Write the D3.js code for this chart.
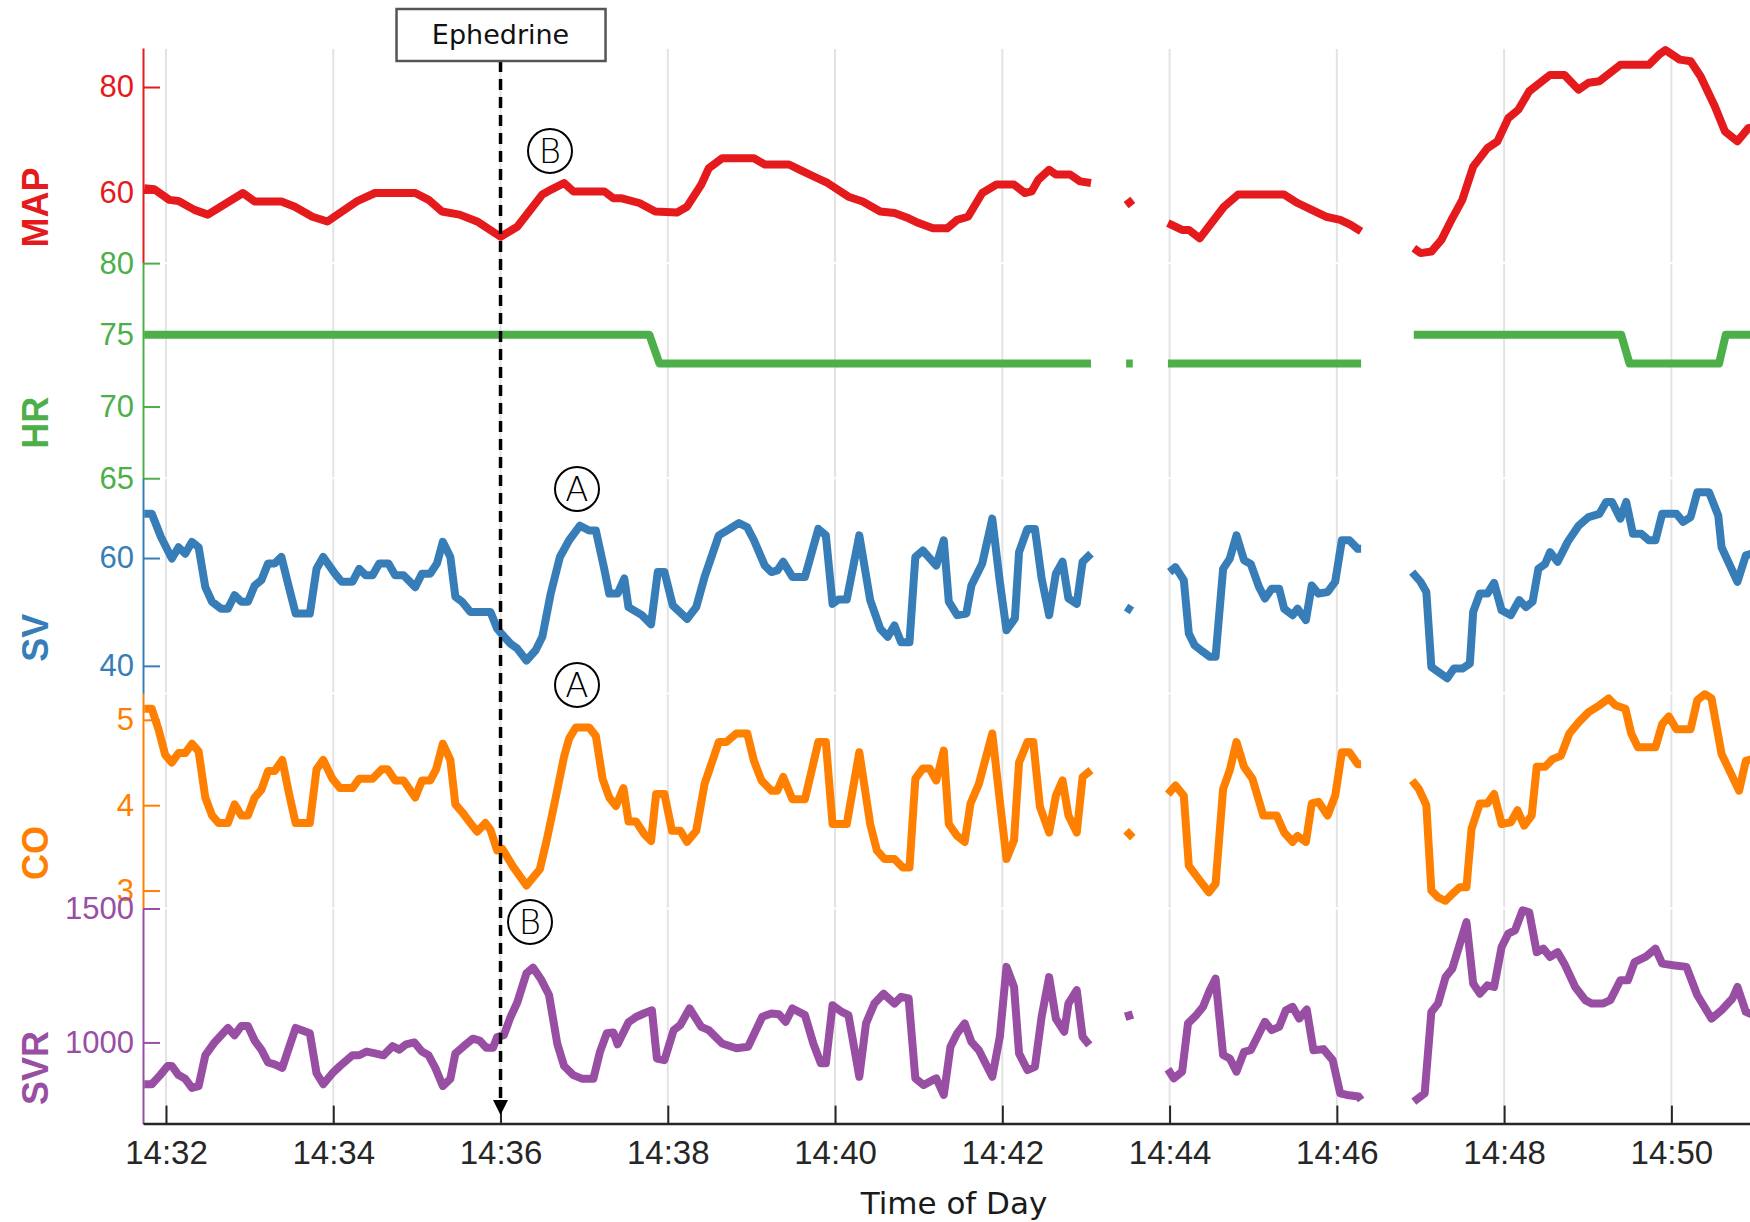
<!DOCTYPE html>
<html>
<head>
<meta charset="utf-8">
<script src="https://cdn.jsdelivr.net/npm/d3@7"></script>
<style>
  html, body { margin: 0; padding: 0; background: #fff; }
  svg { display: block; }
</style>
</head>
<body>
<script>
// every point is [minutes after 14:32, value]; each inner array is one unbroken stretch of signal
const mapSegs = [
  [[-0.26, 60.8], [-0.14, 60.6], [0.04, 58.6], [0.15, 58.4], [0.34, 56.7], [0.5, 55.8], [0.92, 59.9], [1.06, 58.3], [1.38, 58.3], [1.54, 57.3], [1.75, 55.4], [1.93, 54.5], [2.28, 58.3], [2.5, 59.9], [2.98, 59.9], [3.14, 58.6], [3.3, 56.4], [3.51, 55.8], [3.72, 54.5], [4.0, 51.6], [4.2, 53.5], [4.5, 59.6], [4.6, 60.5], [4.76, 61.8], [4.87, 60.2], [5.24, 60.2], [5.35, 58.9], [5.45, 58.9], [5.66, 58.0], [5.85, 56.4], [6.11, 56.2], [6.23, 57.3], [6.4, 61.5], [6.49, 64.6], [6.65, 66.5], [7.03, 66.5], [7.16, 65.3], [7.45, 65.3], [7.58, 64.3], [7.79, 62.7], [7.91, 61.8], [8.16, 59.2], [8.33, 58.3], [8.54, 56.4], [8.71, 56.1], [8.88, 55.1], [9.0, 54.2], [9.17, 53.2], [9.34, 53.2], [9.46, 54.8], [9.59, 55.4], [9.76, 59.9], [9.93, 61.5], [10.14, 61.5], [10.27, 59.9], [10.35, 60.2], [10.43, 62.4], [10.56, 64.3], [10.64, 63.4], [10.81, 63.4], [10.93, 62.1], [11.06, 61.8]],
  [[11.48, 57.6], [11.56, 58.6]],
  [[11.98, 54.2], [12.15, 52.9], [12.23, 52.9], [12.36, 51.3], [12.65, 57.3], [12.82, 59.6], [13.37, 59.6], [13.53, 58.0], [13.7, 56.7], [13.87, 55.4], [14.04, 54.8], [14.16, 53.9], [14.29, 52.6]],
  [[14.92, 49.4], [15.0, 48.5], [15.13, 48.8], [15.25, 51.0], [15.38, 55.1], [15.5, 58.6], [15.63, 64.9], [15.8, 68.4], [15.92, 69.7], [16.05, 74.1], [16.17, 75.7], [16.3, 79.2], [16.55, 82.3], [16.72, 82.3], [16.89, 79.5], [17.01, 80.8], [17.14, 81.1], [17.39, 84.2], [17.73, 84.2], [17.85, 86.1], [17.93, 87.0], [18.1, 85.2], [18.23, 84.9], [18.35, 82.0], [18.52, 76.3], [18.64, 71.6], [18.79, 69.7], [18.92, 72.2], [19.0, 72.5]]
]

const hrSegs = [
  [[-0.26, 75], [5.78, 75], [5.9, 73], [11.06, 73]],
  [[11.48, 73], [11.56, 73]],
  [[11.98, 73], [14.29, 73]],
  [[14.92, 75], [17.4, 75], [17.5, 73], [18.57, 73], [18.65, 75], [19.0, 75]]
]

const svSegs = [
  [[-0.26, 68.2], [-0.17, 68.2], [-0.06, 63.9], [0.07, 59.9], [0.15, 62.0], [0.23, 60.8], [0.31, 63.0], [0.39, 62.0], [0.47, 54.6], [0.55, 51.9], [0.66, 50.6], [0.74, 50.6], [0.82, 53.1], [0.9, 51.9], [0.98, 51.9], [1.06, 54.9], [1.14, 55.9], [1.22, 59.0], [1.3, 59.0], [1.38, 60.2], [1.46, 55.2], [1.55, 49.7], [1.72, 49.7], [1.8, 58.0], [1.88, 60.2], [2.02, 57.1], [2.1, 55.6], [2.23, 55.6], [2.31, 58.0], [2.39, 56.8], [2.47, 56.8], [2.55, 59.0], [2.66, 59.0], [2.74, 56.8], [2.84, 56.8], [2.98, 54.6], [3.06, 57.1], [3.16, 57.1], [3.24, 59.0], [3.31, 63.0], [3.4, 60.2], [3.46, 52.8], [3.54, 51.9], [3.64, 50.0], [3.88, 50.0], [3.96, 46.9], [4.01, 46.0], [4.12, 44.1], [4.2, 43.2], [4.31, 41.0], [4.42, 42.9], [4.5, 45.4], [4.6, 53.4], [4.71, 60.2], [4.82, 63.3], [4.95, 66.0], [5.06, 65.1], [5.14, 65.1], [5.24, 58.0], [5.3, 53.4], [5.4, 53.4], [5.48, 56.2], [5.53, 50.9], [5.69, 49.4], [5.8, 47.7], [5.88, 57.4], [5.96, 57.4], [6.06, 51.2], [6.23, 48.7], [6.34, 50.9], [6.44, 56.5], [6.61, 64.2], [6.74, 65.4], [6.85, 66.5], [6.95, 65.7], [7.03, 63.3], [7.16, 58.6], [7.24, 57.4], [7.31, 57.7], [7.38, 59.3], [7.49, 56.5], [7.64, 56.5], [7.8, 65.4], [7.89, 64.2], [7.97, 51.5], [8.04, 52.3], [8.14, 52.3], [8.29, 64.2], [8.42, 52.2], [8.54, 46.9], [8.63, 45.4], [8.71, 47.5], [8.79, 44.4], [8.89, 44.4], [8.96, 60.2], [9.05, 61.4], [9.21, 58.6], [9.3, 63.3], [9.36, 51.9], [9.46, 49.4], [9.57, 49.7], [9.63, 54.9], [9.76, 59.0], [9.88, 67.3], [9.97, 55.6], [10.05, 46.6], [10.15, 48.8], [10.2, 61.1], [10.3, 65.4], [10.39, 65.4], [10.47, 56.2], [10.56, 49.4], [10.64, 57.1], [10.72, 59.3], [10.79, 52.5], [10.89, 51.5], [10.96, 59.3], [11.06, 60.8]],
  [[11.48, 50.9], [11.55, 50.2]],
  [[12.0, 57.4], [12.07, 58.3], [12.17, 55.9], [12.23, 46.0], [12.3, 43.8], [12.4, 42.6], [12.48, 41.7], [12.55, 41.7], [12.64, 58.0], [12.72, 59.9], [12.8, 64.2], [12.89, 59.6], [12.97, 58.9], [13.07, 54.6], [13.14, 52.5], [13.22, 54.3], [13.31, 54.3], [13.37, 50.6], [13.47, 49.4], [13.53, 50.6], [13.63, 48.5], [13.7, 54.9], [13.78, 53.4], [13.89, 53.7], [13.98, 55.6], [14.06, 63.3], [14.15, 63.3], [14.25, 61.7], [14.29, 61.7]],
  [[14.9, 57.4], [15.0, 55.6], [15.07, 53.7], [15.13, 39.8], [15.21, 38.9], [15.32, 37.7], [15.4, 39.5], [15.5, 39.5], [15.59, 40.4], [15.63, 50.0], [15.71, 53.4], [15.8, 53.4], [15.88, 55.4], [15.97, 50.3], [16.08, 49.4], [16.18, 52.2], [16.26, 50.9], [16.34, 51.9], [16.41, 58.0], [16.49, 58.9], [16.55, 61.1], [16.64, 59.3], [16.76, 63.0], [16.89, 66.0], [17.01, 67.6], [17.14, 68.2], [17.22, 70.4], [17.29, 70.4], [17.39, 67.3], [17.46, 70.4], [17.54, 64.5], [17.64, 64.5], [17.73, 63.3], [17.81, 63.3], [17.89, 68.2], [18.06, 68.2], [18.14, 66.7], [18.23, 67.6], [18.31, 72.2], [18.45, 72.2], [18.56, 67.9], [18.6, 62.0], [18.79, 55.6], [18.89, 60.5], [19.0, 61.0]]
]

const coSegs = [
  [[-0.26, 5.13], [-0.17, 5.13], [-0.09, 4.89], [-0.01, 4.59], [0.07, 4.5], [0.15, 4.61], [0.23, 4.61], [0.31, 4.72], [0.39, 4.63], [0.47, 4.09], [0.55, 3.88], [0.63, 3.79], [0.74, 3.79], [0.82, 4.01], [0.9, 3.88], [0.98, 3.88], [1.06, 4.09], [1.14, 4.18], [1.22, 4.4], [1.3, 4.4], [1.39, 4.53], [1.47, 4.14], [1.55, 3.79], [1.72, 3.79], [1.8, 4.42], [1.88, 4.53], [1.99, 4.31], [2.08, 4.2], [2.23, 4.2], [2.31, 4.31], [2.47, 4.31], [2.58, 4.42], [2.65, 4.42], [2.74, 4.29], [2.84, 4.29], [2.98, 4.09], [3.06, 4.29], [3.16, 4.29], [3.23, 4.42], [3.31, 4.72], [3.4, 4.53], [3.46, 4.01], [3.54, 3.92], [3.64, 3.79], [3.72, 3.69], [3.82, 3.79], [3.88, 3.71], [3.96, 3.47], [4.02, 3.49], [4.15, 3.28], [4.31, 3.06], [4.47, 3.25], [4.55, 3.58], [4.66, 4.09], [4.76, 4.57], [4.82, 4.78], [4.9, 4.91], [5.06, 4.91], [5.14, 4.81], [5.22, 4.31], [5.3, 4.09], [5.38, 3.99], [5.47, 4.2], [5.53, 3.81], [5.62, 3.81], [5.72, 3.66], [5.8, 3.58], [5.86, 4.13], [5.96, 4.13], [6.05, 3.7], [6.15, 3.7], [6.23, 3.57], [6.34, 3.7], [6.44, 4.25], [6.61, 4.74], [6.7, 4.74], [6.82, 4.84], [6.95, 4.84], [7.03, 4.52], [7.12, 4.29], [7.24, 4.17], [7.31, 4.17], [7.38, 4.33], [7.49, 4.07], [7.64, 4.07], [7.8, 4.74], [7.89, 4.74], [7.97, 3.78], [8.14, 3.78], [8.29, 4.62], [8.42, 3.78], [8.5, 3.47], [8.59, 3.37], [8.71, 3.37], [8.81, 3.27], [8.89, 3.27], [8.96, 4.31], [9.05, 4.43], [9.13, 4.43], [9.21, 4.29], [9.3, 4.64], [9.36, 3.78], [9.46, 3.64], [9.55, 3.57], [9.62, 4.02], [9.72, 4.25], [9.88, 4.84], [9.97, 4.05], [10.05, 3.37], [10.14, 3.59], [10.2, 4.5], [10.3, 4.74], [10.37, 4.74], [10.45, 3.98], [10.56, 3.68], [10.64, 4.11], [10.72, 4.29], [10.79, 3.88], [10.89, 3.68], [10.96, 4.33], [11.06, 4.41]],
  [[11.48, 3.7], [11.56, 3.62]],
  [[11.98, 4.13], [12.07, 4.23], [12.17, 4.11], [12.23, 3.29], [12.36, 3.12], [12.47, 2.98], [12.55, 3.08], [12.64, 4.19], [12.72, 4.41], [12.8, 4.74], [12.89, 4.45], [12.99, 4.31], [13.12, 3.88], [13.28, 3.88], [13.37, 3.68], [13.47, 3.57], [13.53, 3.64], [13.63, 3.57], [13.7, 4.02], [13.78, 4.04], [13.89, 3.88], [13.98, 4.11], [14.06, 4.62], [14.15, 4.62], [14.25, 4.48], [14.29, 4.48]],
  [[14.9, 4.29], [14.98, 4.19], [15.07, 4.0], [15.13, 3.0], [15.21, 2.92], [15.3, 2.88], [15.38, 2.96], [15.47, 3.04], [15.55, 3.04], [15.61, 3.72], [15.71, 4.02], [15.8, 4.02], [15.88, 4.13], [15.97, 3.78], [16.08, 3.8], [16.16, 3.94], [16.24, 3.76], [16.33, 3.88], [16.39, 4.45], [16.49, 4.45], [16.58, 4.54], [16.68, 4.58], [16.78, 4.84], [16.89, 4.97], [17.01, 5.09], [17.14, 5.17], [17.25, 5.25], [17.33, 5.17], [17.45, 5.13], [17.52, 4.84], [17.6, 4.68], [17.81, 4.68], [17.89, 4.95], [17.97, 5.04], [18.06, 4.89], [18.23, 4.89], [18.31, 5.23], [18.4, 5.3], [18.48, 5.25], [18.6, 4.6], [18.81, 4.17], [18.89, 4.52], [19.0, 4.55]]
]

const svrSegs = [
  [[-0.26, 844], [-0.17, 844], [-0.07, 878], [0.02, 912], [0.07, 912], [0.15, 878], [0.23, 864], [0.31, 830], [0.39, 837], [0.47, 952], [0.58, 1000], [0.74, 1054], [0.82, 1027], [0.9, 1061], [0.98, 1061], [1.06, 1007], [1.14, 973], [1.22, 925], [1.3, 918], [1.39, 905], [1.47, 980], [1.55, 1054], [1.72, 1034], [1.8, 885], [1.88, 844], [1.99, 885], [2.08, 912], [2.23, 952], [2.31, 952], [2.4, 966], [2.5, 959], [2.6, 952], [2.71, 986], [2.79, 973], [2.87, 993], [2.97, 1000], [3.06, 966], [3.14, 952], [3.22, 905], [3.31, 837], [3.4, 864], [3.46, 959], [3.56, 986], [3.67, 1014], [3.75, 1007], [3.83, 980], [3.91, 980], [3.96, 1020], [4.04, 1027], [4.12, 1095], [4.2, 1149], [4.31, 1258], [4.39, 1279], [4.48, 1238], [4.58, 1177], [4.68, 993], [4.76, 912], [4.87, 878], [4.98, 864], [5.11, 864], [5.19, 966], [5.27, 1034], [5.35, 1037], [5.4, 993], [5.53, 1075], [5.62, 1095], [5.72, 1109], [5.81, 1120], [5.87, 940], [5.96, 934], [6.07, 1046], [6.15, 1065], [6.26, 1127], [6.4, 1058], [6.49, 1046], [6.65, 996], [6.82, 978], [6.96, 984], [7.13, 1096], [7.24, 1108], [7.33, 1105], [7.41, 1077], [7.49, 1127], [7.64, 1102], [7.74, 996], [7.83, 922], [7.89, 922], [7.97, 1139], [8.08, 1114], [8.16, 1102], [8.29, 872], [8.37, 1071], [8.47, 1145], [8.58, 1182], [8.71, 1145], [8.79, 1170], [8.88, 1164], [8.96, 866], [9.06, 841], [9.17, 860], [9.21, 866], [9.3, 804], [9.38, 984], [9.46, 1034], [9.55, 1071], [9.63, 1002], [9.72, 971], [9.88, 872], [9.97, 1021], [10.05, 1282], [10.14, 1207], [10.2, 959], [10.3, 897], [10.39, 909], [10.47, 1096], [10.56, 1244], [10.64, 1089], [10.74, 1040], [10.79, 1145], [10.89, 1195], [10.96, 1021], [11.04, 990]],
  [[11.5, 1115], [11.53, 1085]],
  [[11.98, 900], [12.05, 866], [12.15, 891], [12.22, 1071], [12.32, 1102], [12.4, 1133], [12.48, 1195], [12.55, 1238], [12.64, 953], [12.72, 940], [12.8, 891], [12.89, 965], [12.97, 971], [13.06, 1027], [13.14, 1077], [13.22, 1046], [13.31, 1058], [13.39, 1120], [13.47, 1133], [13.55, 1089], [13.64, 1123], [13.72, 971], [13.84, 975], [13.95, 934], [14.04, 810], [14.12, 804], [14.26, 798], [14.29, 785]],
  [[14.92, 779], [15.05, 810], [15.13, 1114], [15.21, 1145], [15.3, 1244], [15.38, 1275], [15.55, 1449], [15.63, 1220], [15.71, 1182], [15.8, 1213], [15.88, 1207], [15.97, 1356], [16.05, 1406], [16.13, 1418], [16.22, 1493], [16.3, 1486], [16.39, 1337], [16.47, 1350], [16.55, 1319], [16.64, 1337], [16.72, 1294], [16.85, 1207], [16.97, 1158], [17.05, 1145], [17.18, 1145], [17.27, 1158], [17.39, 1232], [17.48, 1232], [17.56, 1300], [17.69, 1319], [17.81, 1350], [17.89, 1294], [18.02, 1288], [18.18, 1282], [18.31, 1176], [18.48, 1089], [18.6, 1120], [18.73, 1164], [18.79, 1207], [18.89, 1114], [19.0, 1100]]
]

const names = ['MAP', 'HR', 'SV', 'CO', 'SVR']
const colors = ['#e41a1c', '#4daf4a', '#377eb8', '#ff7f00', '#984ea3']
const limits = [[46.6, 87.4], [65, 80], [34.9, 74.8], [2.79, 5.31], [697, 1500]]
const yTicks = [[60, 80], [65, 70, 75, 80], [40, 60], [3, 4, 5], [1000, 1500]]
const timeTicks = ['14:32', '14:34', '14:36', '14:38', '14:40', '14:42', '14:44', '14:46', '14:48', '14:50']
const eventTime = 4   // ephedrine given at 14:36
const eventLabel = 'Ephedrine'

const W = 1750, H = 1222
const plotL = 143, plotR = 1750, plotT = 48, plotB = 1123.6
const bandH = (plotB - plotT) / names.length

const base = new Date(2020, 0, 1, 14, 32, 0)
const toDate = m => new Date(+base + m * 60000)
const parseHM = d3.timeParse('%Y-%m-%d %H:%M')

const x = d3.scaleTime()
  .domain([toDate(-0.275), toDate(18.94)])
  .range([plotL, plotR])

const svg = d3.select('body').append('svg')
  .attr('width', W)
  .attr('height', H)

svg.append('defs').append('clipPath').attr('id', 'plot')
  .append('rect')
  .attr('x', plotL).attr('y', plotT - 5)
  .attr('width', plotR - plotL).attr('height', plotB - plotT + 10)

const tickDates = timeTicks.map(s => parseHM('2020-01-01 ' + s))

const gridG = svg.append('g')
const lineG = svg.append('g').attr('clip-path', 'url(#plot)')
const axisG = svg.append('g')

const allSegs = [mapSegs, hrSegs, svSegs, coSegs, svrSegs]

const panels = names.map((name, i) => ({
  name,
  color: colors[i],
  segs: allSegs[i],
  ticks: yTicks[i],
  y: d3.scaleLinear().domain(limits[i]).range([plotT + bandH * (i + 1), plotT + bandH * i])
}))

panels.forEach((p, i) => {
  const y0 = plotT + bandH * i
  // vertical grid, one set per stacked panel
  gridG.selectAll(null)
    .data(tickDates)
    .enter().append('line')
    .attr('x1', d => x(d)).attr('x2', d => x(d))
    .attr('y1', y0 + 1).attr('y2', y0 + bandH - 1)
    .attr('stroke', '#e3e3e3')
    .attr('stroke-width', 2)

  const line = d3.line()
    .x(d => x(toDate(d[0])))
    .y(d => p.y(d[1]))

  lineG.selectAll(null)
    .data(p.segs)
    .enter().append('path')
    .attr('d', line)
    .attr('fill', 'none')
    .attr('stroke', p.color)
    .attr('stroke-width', 8)
    .attr('stroke-linejoin', 'round')
    .attr('stroke-linecap', 'butt')

  const ax = axisG.append('g')
    .attr('transform', `translate(${plotL},0)`)
    .call(d3.axisLeft(p.y).tickValues(p.ticks).tickFormat(d => String(d))
      .tickSizeInner(-17).tickSizeOuter(0).tickPadding(9))
  ax.select('.domain').attr('stroke', p.color).attr('stroke-width', 2)
  ax.selectAll('.tick line').attr('stroke', p.color).attr('stroke-width', 2)
  ax.selectAll('.tick text')
    .attr('fill', p.color)
    .attr('font-family', "'Liberation Sans', Arial, sans-serif")
    .attr('font-size', 31)

  axisG.append('text')
    .attr('transform', `translate(48,${y0 + bandH / 2 + 52}) rotate(-90)`)
    .attr('text-anchor', 'middle')
    .attr('fill', p.color)
    .attr('font-family', "'Liberation Sans', Arial, sans-serif")
    .attr('font-weight', 'bold')
    .attr('font-size', 36)
    .text(p.name)
})

const xa = axisG.append('g')
  .attr('transform', `translate(0,${plotB})`)
  .call(d3.axisBottom(x).tickValues(tickDates).tickFormat(d3.timeFormat('%H:%M'))
    .tickSizeInner(-18).tickSizeOuter(0).tickPadding(17))
xa.select('.domain').attr('stroke', '#262626').attr('stroke-width', 2.5)
xa.selectAll('.tick line').attr('stroke', '#262626').attr('stroke-width', 2)
xa.selectAll('.tick text')
  .attr('fill', '#262626')
  .attr('font-family', "'Liberation Sans', Arial, sans-serif")
  .attr('font-size', 33)

svg.append('text')
  .attr('x', 954).attr('y', 1214)
  .attr('text-anchor', 'middle')
  .attr('fill', '#1a1a1a')
  .attr('font-family', "'DejaVu Sans', sans-serif")
  .attr('font-size', 31)
  .text('Time of Day')

// ephedrine marker
const ex = x(toDate(eventTime))
svg.append('line')
  .attr('x1', ex).attr('x2', ex)
  .attr('y1', 61).attr('y2', 1101)
  .attr('stroke', '#000')
  .attr('stroke-width', 3.5)
  .attr('stroke-dasharray', '11,7')
svg.append('path')
  .attr('d', `M${ex - 7.5},1100 L${ex + 7.5},1100 L${ex},1115 Z`)
  .attr('fill', '#000')
svg.append('rect')
  .attr('x', ex - 104).attr('y', 9)
  .attr('width', 209).attr('height', 52)
  .attr('fill', '#fff')
  .attr('stroke', '#555')
  .attr('stroke-width', 2.5)
svg.append('text')
  .attr('x', ex).attr('y', 44)
  .attr('text-anchor', 'middle')
  .attr('fill', '#111')
  .attr('font-family', "'DejaVu Sans', sans-serif")
  .attr('font-size', 27)
  .text(eventLabel)

// circled annotations
const notes = [
  { letter: 'B', cx: 550, cy: 151 },
  { letter: 'A', cx: 577, cy: 489 },
  { letter: 'A', cx: 577, cy: 685 },
  { letter: 'B', cx: 530, cy: 922 }
]
const ng = svg.selectAll('g.note').data(notes).enter().append('g').attr('class', 'note')
ng.append('circle')
  .attr('cx', d => d.cx).attr('cy', d => d.cy).attr('r', 22)
  .attr('fill', 'none').attr('stroke', '#000').attr('stroke-width', 2)
ng.append('text')
  .attr('x', d => d.cx).attr('y', d => d.cy + 12)
  .attr('text-anchor', 'middle')
  .attr('font-family', "'DejaVu Sans', sans-serif")
  .attr('font-weight', 200)
  .attr('font-size', 34)
  .attr('fill', '#000')
  .text(d => d.letter)
</script>
</body>
</html>
